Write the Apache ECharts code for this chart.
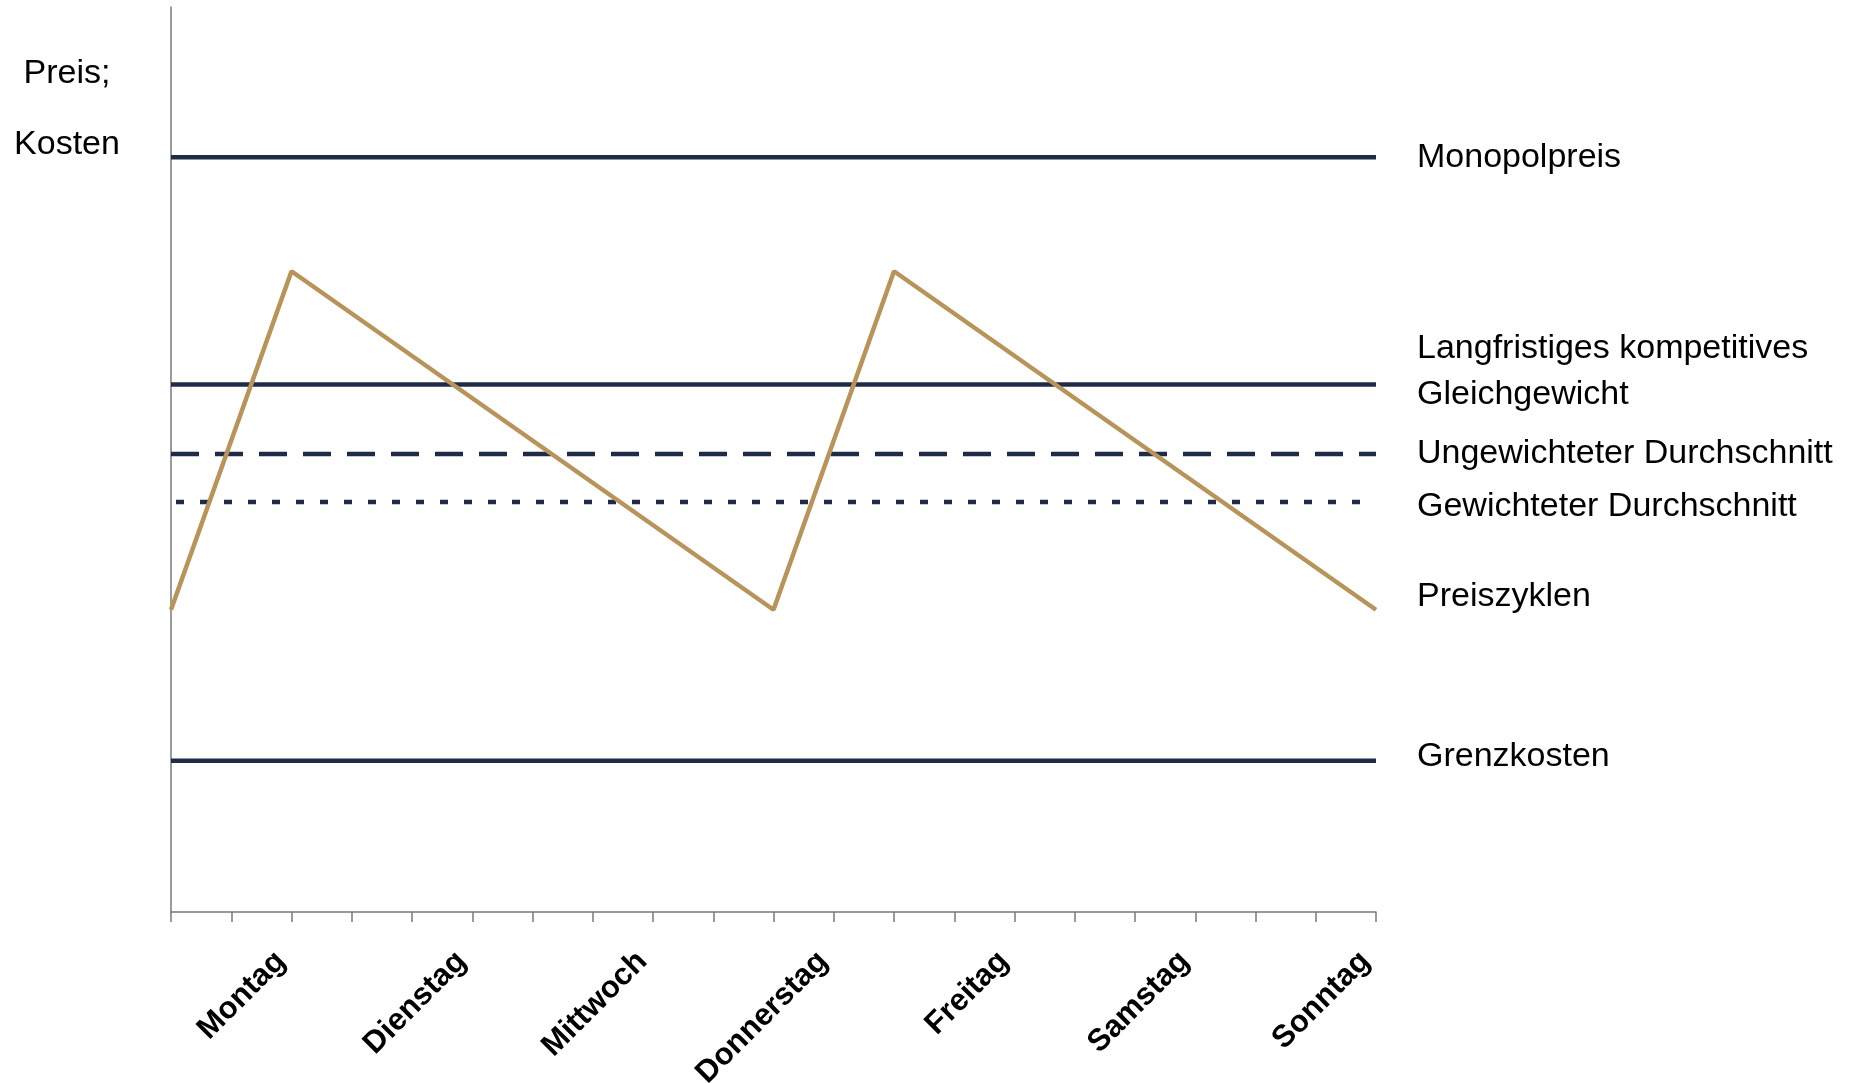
<!DOCTYPE html>
<html>
<head>
<meta charset="utf-8">
<title>Preiszyklen</title>
<style>
html, body { margin: 0; padding: 0; background: #fff; }
#main { width: 1866px; height: 1083px; }
</style>
</head>
<body>
<div id="main"></div>
<script src="https://cdn.jsdelivr.net/npm/echarts@6/dist/echarts.min.js"></script>
<script>
// Tage auf der x-Achse (Position = Tick-Index)
var tage = ['Montag', 'Dienstag', 'Mittwoch', 'Donnerstag', 'Freitag', 'Samstag', 'Sonntag'];
var tagPos = [2, 5, 8, 11, 14, 17, 20];

// Preiszyklen: Knickpunkte
var zyklusX = [0, 2, 10, 12, 20];
var zyklusY = [33.4, 70.8, 33.4, 70.8, 33.4];

// horizontale Niveaus
var monopolpreis = 83.4;
var gleichgewicht = 58.3;
var ungewichtet = 50.6;
var gewichtet = 45.3;
var grenzkosten = 16.7;
var xStart = 0, xEnde = 20;

var navy = '#1f2b47';
var gold = '#b8945a';
var grau = '#7a7a7a';
var schrift = "'Liberation Sans Narrow', 'Arial Narrow', 'Liberation Sans', sans-serif";

var chart = echarts.init(document.getElementById('main'));

function endText(text, dy) {
    return {
        show: true,
        formatter: function () { return text; },
        distance: 41,
        offset: [0, dy],
        color: '#000',
        fontFamily: schrift,
        fontSize: 34,
        lineHeight: 46
    };
}

function niveau(name, text, wert, typ, dy, dashOffset) {
    return {
        type: 'line',
        name: name,
        data: [[xStart, wert], [xEnde, wert]],
        symbol: 'none',
        silent: true,
        lineStyle: { color: navy, width: 4.5, type: typ, dashOffset: dashOffset || 0 },
        endLabel: endText(text, dy)
    };
}

var preisDaten = zyklusX.map(function (x, i) { return [x, zyklusY[i]]; });

var option = {
    animation: false,
    title: {
        text: 'Preis;\nKosten',
        left: 67,
        top: 38,
        padding: 0,
        textAlign: 'center',
        textStyle: {
            fontFamily: schrift,
            fontSize: 34,
            fontWeight: 'normal',
            lineHeight: 71,
            color: '#000'
        }
    },
    grid: { left: 171, right: 490, top: 7, bottom: 171, outerBoundsMode: 'none', containLabel: false },
    xAxis: {
        type: 'value',
        min: xStart,
        max: xEnde,
        interval: 1,
        splitLine: { show: false },
        axisLine: { lineStyle: { color: grau, width: 1.5 } },
        axisTick: { show: true, length: 10, lineStyle: { color: grau, width: 1.5 } },
        axisLabel: {
            rotate: 45,
            margin: 34,
            padding: [0, 15, 0, 0],
            fontFamily: "'Liberation Sans', Arial, sans-serif",
            fontWeight: 'bold',
            fontSize: 31,
            color: '#000',
            formatter: function (v) {
                var i = tagPos.indexOf(v);
                return i >= 0 ? tage[i] : '';
            }
        }
    },
    yAxis: {
        type: 'value',
        min: 0,
        max: 100,
        splitLine: { show: false },
        axisLine: { show: true, lineStyle: { color: grau, width: 1.5 } },
        axisTick: { show: false },
        axisLabel: { show: false }
    },
    series: [
        niveau('Monopolpreis', 'Monopolpreis', monopolpreis, 'solid', 0),
        niveau('Gleichgewicht', 'Langfristiges kompetitives\nGleichgewicht', gleichgewicht, 'solid', -13),
        niveau('Ungewichtet', 'Ungewichteter Durchschnitt', ungewichtet, [28, 16], 0),
        niveau('Gewichtet', 'Gewichteter Durchschnitt', gewichtet, [8, 16], 5, 19),
        niveau('Grenzkosten', 'Grenzkosten', grenzkosten, 'solid', -4),
        {
            type: 'line',
            name: 'Preiszyklen',
            data: preisDaten,
            symbol: 'none',
            silent: true,
            lineStyle: { color: gold, width: 4.5 },
            endLabel: endText('Preiszyklen', -13)
        }
    ]
};

chart.setOption(option);
</script>
</body>
</html>
